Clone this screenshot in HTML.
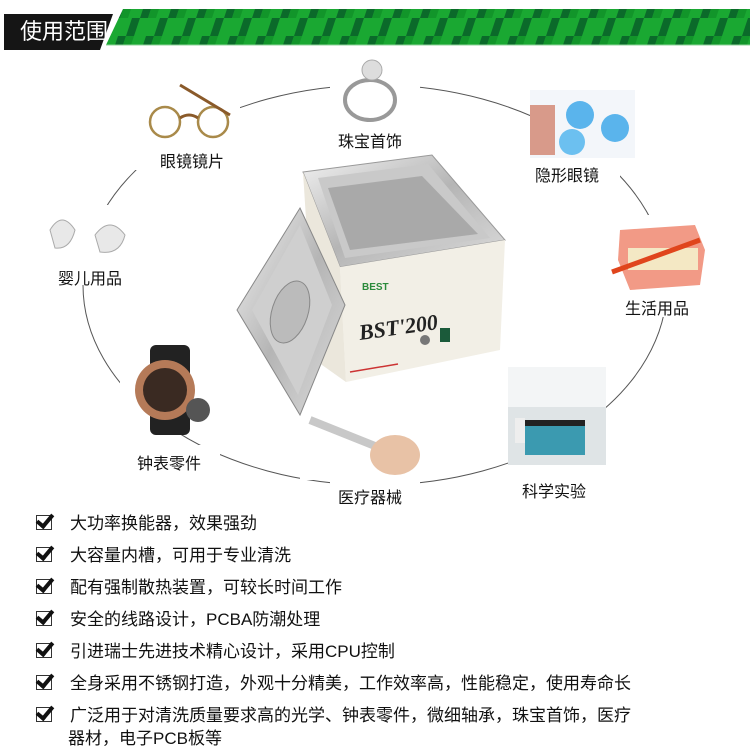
<!DOCTYPE html>
<html><head><meta charset="utf-8"><style>
html,body{margin:0;padding:0;background:#fff;}
body{width:750px;height:750px;position:relative;overflow:hidden;font-family:"Liberation Sans","Noto Sans CJK SC",sans-serif;}
.lb{position:absolute;font-size:16px;color:#111;white-space:nowrap;}
.li{position:absolute;left:36px;font-size:17px;color:#111;white-space:nowrap;}
.li b{display:inline-block;width:14px;height:13px;border:1.5px solid #333;margin-right:18px;position:relative;vertical-align:-1px;font-weight:normal}
.li b:after{content:"";position:absolute;left:3px;top:-5px;width:6px;height:13px;border-right:4px solid #111;border-bottom:4px solid #111;transform:rotate(40deg);}
</style></head><body>
<svg width="750" height="750" style="position:absolute;left:0;top:0">
<defs>
<pattern id="gp" width="28" height="36" patternUnits="userSpaceOnUse">
<rect width="28" height="36" fill="#1aa832"/>
<polygon points="6,0 14,0 8,18 0,18" fill="#0b6a2a"/>
<polygon points="20,18 28,18 22,36 14,36" fill="#0b6a2a"/>
<polygon points="14,0 22,0 16,18 8,18" fill="#12952a"/>
</pattern>
<linearGradient id="st" x1="0" y1="0" x2="1" y2="1"><stop offset="0" stop-color="#f2f2f2"/><stop offset=".5" stop-color="#b5b5b5"/><stop offset="1" stop-color="#dcdcdc"/></linearGradient>
</defs>
<polygon points="4,14 113,14 100,50 4,50" fill="#151515"/>
<polygon points="123,9 750,9 750,45 106,45" fill="url(#gp)"/>
<line x1="106" y1="45" x2="750" y2="45" stroke="#8fd39a" stroke-width="1"/>
<ellipse cx="375" cy="285" rx="292" ry="200" fill="none" stroke="#555" stroke-width="1"/>
<rect x="140" y="75" width="100" height="70" fill="#fff"/>
<rect x="330" y="50" width="90" height="75" fill="#fff"/>
<rect x="530" y="90" width="105" height="68" fill="#f3f6fa"/>
<rect x="40" y="205" width="100" height="55" fill="#fff"/>
<rect x="600" y="215" width="115" height="80" fill="#fff"/>
<rect x="120" y="340" width="95" height="95" fill="#fff"/>
<rect x="300" y="395" width="120" height="85" fill="#fff"/>
<rect x="508" y="367" width="98" height="98" fill="#dfe4e6"/>
<rect x="130" y="130" width="110" height="40" fill="#fff"/><rect x="330" y="125" width="90" height="25" fill="#fff"/>
<rect x="530" y="158" width="90" height="25" fill="#fff"/><rect x="50" y="260" width="90" height="25" fill="#fff"/>
<rect x="615" y="292" width="90" height="25" fill="#fff"/><rect x="130" y="445" width="90" height="25" fill="#fff"/>
<rect x="330" y="480" width="90" height="25" fill="#fff"/><rect x="510" y="465" width="95" height="25" fill="#fff"/>
<circle cx="165" cy="122" r="15" fill="none" stroke="#a98a4a" stroke-width="2.5"/>
<circle cx="213" cy="122" r="15" fill="none" stroke="#a98a4a" stroke-width="2.5"/>
<path d="M180 118 Q189 112 198 118 M180 85 L230 115" stroke="#8a5a2a" stroke-width="3" fill="none"/>
<ellipse cx="370" cy="100" rx="25" ry="20" fill="none" stroke="#999" stroke-width="4"/>
<circle cx="372" cy="70" r="10" fill="#ddd" stroke="#aaa"/>
<rect x="530" y="105" width="25" height="50" fill="#d89a8a"/>
<circle cx="580" cy="115" r="14" fill="#5ab4ec"/><circle cx="615" cy="128" r="14" fill="#5ab4ec"/><circle cx="572" cy="142" r="13" fill="#6cc0f0"/>
<path d="M50 230 Q62 210 75 230 Q70 250 55 248Z" fill="#e8e8e8" stroke="#aaa"/>
<path d="M95 235 Q110 215 125 235 Q120 255 100 252Z" fill="#e8e8e8" stroke="#aaa"/>
<path d="M620 230 L695 225 L705 250 L700 285 L630 290 L618 260Z" fill="#f29a86"/>
<rect x="628" y="248" width="70" height="22" fill="#f4e8c4"/>
<line x1="612" y1="272" x2="700" y2="240" stroke="#e0451c" stroke-width="5"/>
<rect x="150" y="345" width="40" height="90" rx="6" fill="#222"/>
<circle cx="165" cy="390" r="30" fill="#b57a58"/><circle cx="165" cy="390" r="22" fill="#3a2a22"/>
<circle cx="198" cy="410" r="12" fill="#555"/>
<line x1="310" y1="420" x2="410" y2="460" stroke="#c8c8c8" stroke-width="8"/>
<ellipse cx="395" cy="455" rx="25" ry="20" fill="#e8c2a6"/>
<rect x="508" y="367" width="98" height="40" fill="#f3f5f6"/>
<rect x="525" y="425" width="60" height="30" fill="#3b9ab0"/><rect x="525" y="420" width="60" height="6" fill="#222"/>
<rect x="515" y="418" width="10" height="25" fill="#eee"/>
<polygon points="303,172 432,155 505,240 340,267" fill="url(#st)" stroke="#999"/>
<polygon points="318,178 428,164 490,238 345,258" fill="#c9c9c9"/>
<polygon points="328,188 422,176 478,234 350,250" fill="#a9a9a9"/>
<polygon points="340,267 505,240 500,350 346,382" fill="#f2efe6"/>
<polygon points="303,172 340,267 346,382 315,360" fill="#ebe7dc"/>
<text x="360" y="340" font-family="Liberation Serif,serif" font-style="italic" font-weight="bold" font-size="22" fill="#222" transform="rotate(-8 360 340)">BST'200</text>
<rect x="440" y="328" width="10" height="14" fill="#1b5a3a"/>
<circle cx="425" cy="340" r="5" fill="#777"/>
<line x1="350" y1="372" x2="398" y2="364" stroke="#c33" stroke-width="1.5"/>
<text x="362" y="290" font-size="10" fill="#2a8a3a" font-weight="bold">BEST</text>
<polygon points="300,208 345,305 300,415 237,310" fill="url(#st)" stroke="#888"/>
<polygon points="300,225 332,305 298,395 252,310" fill="#cfcfcf"/>
<ellipse cx="290" cy="312" rx="18" ry="32" fill="#bbb" stroke="#888" transform="rotate(18 290 312)"/>
</svg>
<div class="lb" style="left:160px;top:148px">眼镜镜片</div>
<div class="lb" style="left:338px;top:128px">珠宝首饰</div>
<div class="lb" style="left:535px;top:162px">隐形眼镜</div>
<div class="lb" style="left:58px;top:265px">婴儿用品</div>
<div class="lb" style="left:625px;top:295px">生活用品</div>
<div class="lb" style="left:137px;top:450px">钟表零件</div>
<div class="lb" style="left:338px;top:484px">医疗器械</div>
<div class="lb" style="left:522px;top:478px">科学实验</div>
<div class="li" style="top:509px"><b></b>大功率换能器，效果强劲</div>
<div class="li" style="top:541px"><b></b>大容量内槽，可用于专业清洗</div>
<div class="li" style="top:573px"><b></b>配有强制散热装置，可较长时间工作</div>
<div class="li" style="top:605px"><b></b>安全的线路设计，PCBA防潮处理</div>
<div class="li" style="top:637px"><b></b>引进瑞士先进技术精心设计，采用CPU控制</div>
<div class="li" style="top:669px"><b></b>全身采用不锈钢打造，外观十分精美，工作效率高，性能稳定，使用寿命长</div>
<div class="li" style="top:701px"><b></b>广泛用于对清洗质量要求高的光学、钟表零件，微细轴承，珠宝首饰，医疗</div>
<div class="li" style="top:724px;left:68px">器材，电子PCB板等</div>
<div style="position:absolute;left:20px;top:14px;color:#fff;font-size:22px;line-height:36px;font-family:'Liberation Sans','Noto Sans CJK SC',sans-serif">使用范围</div>
</body></html>
